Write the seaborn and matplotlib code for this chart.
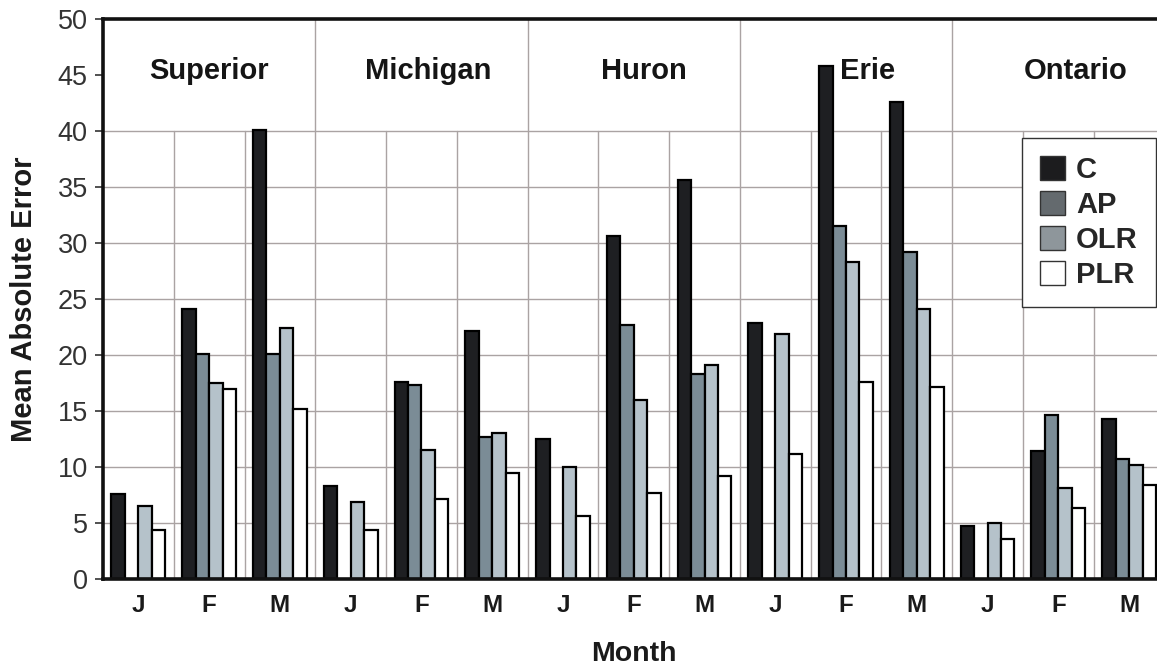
import numpy as np
import pandas as pd
import matplotlib
matplotlib.use("Agg")
import matplotlib.pyplot as plt
from matplotlib.patches import Patch
import seaborn as sns

# ---------------- data ----------------
lakes = ["Superior", "Michigan", "Huron", "Erie", "Ontario"]
months = ["J", "F", "M"]
methods = ["C", "AP", "OLR", "PLR"]

# one value per lake x month (J, F, M), AP has no January values
C   = [7.6, 24.1, 40.1,   8.3, 17.6, 22.1,   12.5, 30.6, 35.6,   22.9, 45.8, 42.6,   4.7, 11.4, 14.3]
AP  = [np.nan, 20.1, 20.1, np.nan, 17.3, 12.7, np.nan, 22.7, 18.3, np.nan, 31.5, 29.2, np.nan, 14.6, 10.7]
OLR = [6.5, 17.5, 22.4,   6.9, 11.5, 13.0,   10.0, 16.0, 19.1,   21.9, 28.3, 24.1,   5.0, 8.1, 10.2]
PLR = [4.4, 17.0, 15.2,   4.4, 7.1, 9.5,     5.6, 7.7, 9.2,      11.2, 17.6, 17.1,   3.6, 6.3, 8.4]

# ---------------- long format ----------------
groups = [f"{lake}-{m}" for lake in lakes for m in months]
df = pd.DataFrame({"Group": groups, "C": C, "AP": AP, "OLR": OLR, "PLR": PLR})
df_long = df.melt(id_vars="Group", var_name="Method", value_name="MAE").dropna()

# ---------------- style ----------------
sns.set_theme(style="white")
plt.rcParams["font.family"] = ["Liberation Sans", "DejaVu Sans"]

bar_colors = {"C": "#1e1f22", "AP": "#7b8c96", "OLR": "#b5c2ca", "PLR": "#ffffff"}
legend_colors = {"C": "#1c1c1e", "AP": "#646a6e", "OLR": "#8e969b", "PLR": "#ffffff"}
grid_col = "#aaa3a3"

fig = plt.figure(figsize=(11.57, 6.67), dpi=100)
ax = fig.add_axes([103 / 1157, 88 / 667, 1061.5 / 1157, 560 / 667])

# grid behind bars
for y in range(5, 45, 5):
    ax.axhline(y, color=grid_col, lw=1.0, zorder=0)
for i in range(1, 15):
    top = 50 if i % 3 == 0 else 40
    ax.plot([i - 0.5, i - 0.5], [0, top], color=grid_col, lw=1.0, zorder=0)

sns.barplot(
    data=df_long, x="Group", y="MAE", hue="Method",
    order=groups, hue_order=methods, palette=bar_colors,
    width=0.76, gap=0, errorbar=None, edgecolor="black",
    linewidth=1.6, saturation=1, legend=False, ax=ax, zorder=2
)

ax.set_xlim(-0.5, 14.5)
ax.set_ylim(0, 50)
ax.set_yticks(range(0, 55, 5))
ax.tick_params(axis="y", labelsize=19.5, colors="#333333", length=6, width=1.2,
               direction="out", left=True, pad=5)
ax.set_xticks(range(15))
ax.set_xticklabels(months * 5, fontsize=17.5, fontweight="bold", color="#1a1a1a")
ax.tick_params(axis="x", length=0, pad=11)

for side in ["left", "bottom", "top"]:
    ax.spines[side].set_linewidth(2.6)
    ax.spines[side].set_color("#111111")
ax.spines["right"].set_visible(False)

ax.set_xlabel("Month", fontsize=20.5, fontweight="bold", labelpad=17, color="#1a1a1a")
ax.set_ylabel("Mean Absolute Error", fontsize=21, fontweight="bold", labelpad=14, color="#1a1a1a")

# lake names in the header band
label_shift = [0.0, 0.1, 0.15, 0.3, 0.25]
for k, lake in enumerate(lakes):
    ax.text(3 * k + 1 + label_shift[k], 45.4, lake, ha="center", va="center",
            fontsize=21, fontweight="bold", color="#151515", zorder=3)

handles = [Patch(facecolor=legend_colors[m], edgecolor="#333333", linewidth=1.0, label=m) for m in methods]
leg = ax.legend(handles=handles, loc="upper left", bbox_to_anchor=(0.8657, 0.7875),
                frameon=True, fancybox=False, edgecolor="#333333", framealpha=1,
                prop={"weight": "bold", "size": 21}, handlelength=0.85, handleheight=0.85,
                handletextpad=0.38, labelspacing=0.24, borderpad=0.62, borderaxespad=0)
leg.get_frame().set_linewidth(1.0)
leg.set_zorder(5)

fig.savefig("out.png", dpi=100)
